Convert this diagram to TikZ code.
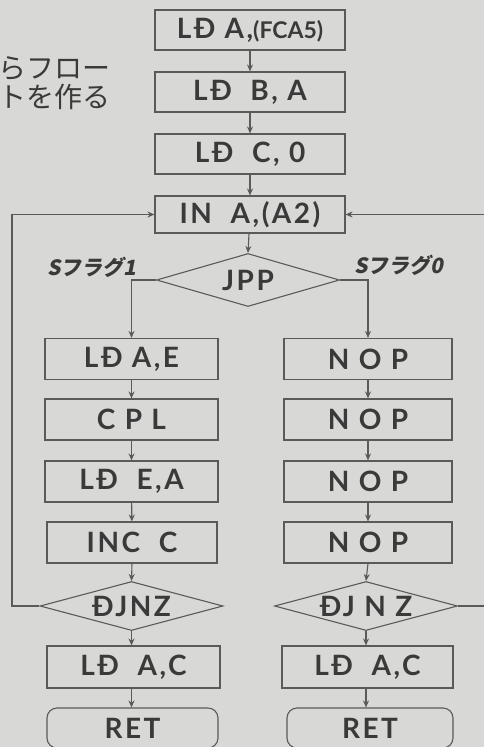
\documentclass[tikz,border=0pt]{standalone}
\usepackage{fontspec}
\setmainfont{Lato}
\newfontfamily\jpfont{Noto Sans CJK JP}
\newfontfamily\jpslant{Noto Sans CJK JP}[FakeSlant=0.2]
\usetikzlibrary{shapes.geometric,arrows.meta}
\definecolor{bgc}{HTML}{D8D8D6}
\definecolor{ln}{HTML}{5A5A5A}
\definecolor{tx}{HTML}{3A3A3A}
\newcommand{\boxfont}{\fontsize{28}{30}\selectfont\bfseries\addfontfeatures{LetterSpace=9}}
\tikzset{
  box/.style={draw=ln, line width=1.1pt, rectangle, inner sep=0pt, text=tx,
    font=\boxfont, minimum height=41pt},
  dia/.style={draw=ln, line width=1.1pt, diamond, inner sep=0pt, text=tx,
    font=\boxfont, aspect=3.6},
  term/.style={draw=ln, line width=1.1pt, rectangle, rounded corners=10pt, inner sep=0pt, text=tx,
    font=\boxfont, minimum height=40pt},
  arr/.style={draw=ln, line width=1.1pt, -{Stealth[length=7pt,width=6pt]}},
  lbl/.style={text=tx, font=\jpslant\bfseries\fontsize{21}{23}\selectfont, inner sep=0pt},
  jp/.style={text=tx, font=\jpfont\fontsize{28}{30}\selectfont, anchor=east, inner sep=0pt}
}
\begin{document}
\begin{tikzpicture}[x=1pt,y=-1pt]
\useasboundingbox (0,0) rectangle (484,747);
\clip (0,0) rectangle (484,747);
\fill[bgc] (0,0) rectangle (484,747);

\node[jp] (t1) at (111,68) {らフロー};
\node[jp] (t2) at (111,97) {トを作る};

% top column
\node[box, minimum width=190pt, minimum height=40pt] (b1) at (250,30) {LĐ A,{\addfontfeatures{LetterSpace=0}\fontsize{23}{25}\selectfont(FCA5)}};
\node[box, minimum width=190pt, minimum height=40pt] (b2) at (250,92) {LĐ\ \ B, A};
\node[box, minimum width=190pt, minimum height=40pt] (b3) at (250,154) {LĐ\ \ C, 0};
\node[box, minimum width=190pt, minimum height=37pt] (in) at (250,214.5) {IN\ \ A,(A2)};
\node[dia, minimum width=183pt, minimum height=53pt] (jpp) at (248,280) {JPP};

\node[lbl] (s1) at (92,267) {Sフラグ1};
\node[lbl] (s0) at (399,265) {Sフラグ0};

% left column
\node[box, minimum width=173pt] (l1) at (131.5,359) {LĐ A,E};
\node[box, minimum width=173pt] (l2) at (131.5,419.5) {C P L};
\node[box, minimum width=173pt] (l3) at (131.5,481.5) {LĐ\ \ E,A};
\node[box, minimum width=170pt] (l4) at (132,542.5) {INC\ \ C};
\node[dia, minimum width=183pt, minimum height=49pt] (dl) at (131.5,606) {ĐJNZ};
\node[box, minimum width=173pt, minimum height=42pt] (l5) at (133.5,667) {LĐ\ \ A,C};
\node[term, minimum width=171pt] (l6) at (132.5,728) {RET};

% right column
\node[box, minimum width=168pt] (r1) at (368,359) {N O P};
\node[box, minimum width=168pt] (r2) at (368,419.5) {N O P};
\node[box, minimum width=168pt] (r3) at (368,481.5) {N O P};
\node[box, minimum width=168pt] (r4) at (368,542.5) {N O P};
\node[dia, minimum width=183pt, minimum height=49pt] (dr) at (366,606) {ĐJ N Z};
\node[box, minimum width=171pt, minimum height=42pt] (r5) at (367.5,667) {LĐ\ \ A,C};
\node[term, minimum width=166pt] (r6) at (370,728) {RET};

% connectors
\draw[arr] (b1) -- (b2);
\draw[arr] (b2) -- (b3);
\draw[arr] (b3) -- (in);
\draw[arr] (in) -- (jpp.north);
\draw[arr] (jpp.west) -| (l1.north);
\draw[arr] (jpp.east) -| (r1.north);
\draw[arr] (l1) -- (l2);
\draw[arr] (l2) -- (l3);
\draw[arr] (l3) -- (l4);
\draw[arr] (l4.south) -- (dl.north);
\draw[arr] (dl.south) -- (dl.south |- l5.north);
\draw[arr] (dl.south |- l5.south) -- (dl.south |- l6.north);
\draw[arr] (r1) -- (r2);
\draw[arr] (r2) -- (r3);
\draw[arr] (r3) -- (r4);
\draw[arr] (r4.south) -- (dr.north);
\draw[arr] (dr.south) -- (dr.south |- r5.north);
\draw[arr] (dr.south |- r5.south) -- (dr.south |- r6.north);
\coordinate (lx) at (12,606);
\draw[arr] (dl.west) -- (lx) |- (in.west);
\coordinate (rx) at (492,606);
\draw[arr] (dr.east) -- (rx) |- (in.east);
\end{tikzpicture}
\end{document}
